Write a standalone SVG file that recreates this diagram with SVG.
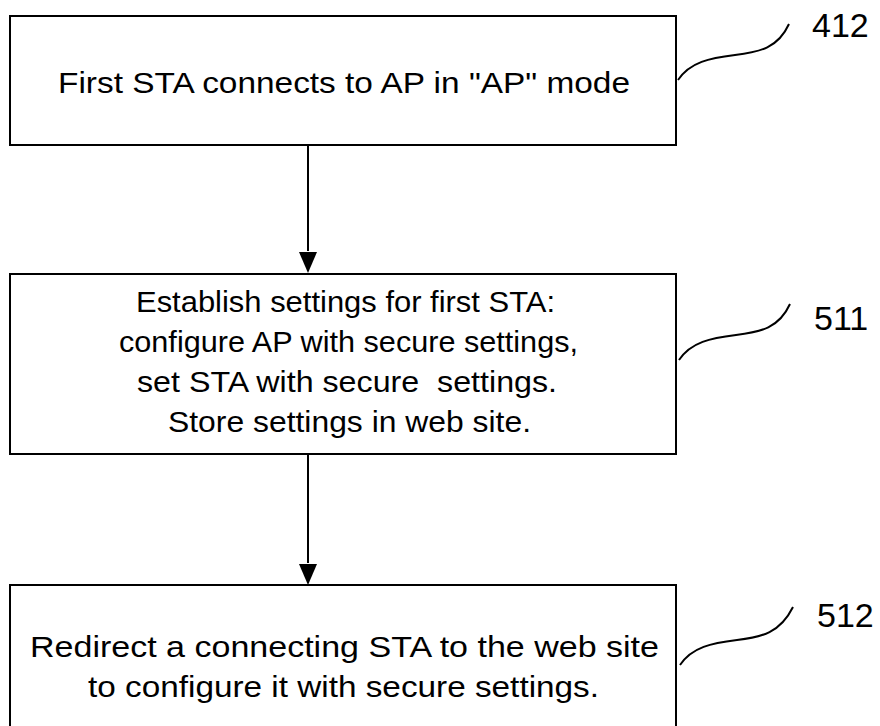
<svg xmlns="http://www.w3.org/2000/svg" width="880" height="726" viewBox="0 0 880 726">
<defs>
<style>
.box{fill:#fff;stroke:#000;stroke-width:2}
.t{font-family:"Liberation Sans",Arial,sans-serif;font-size:30px;fill:#000;white-space:pre}
.n{font-family:"Liberation Sans",Arial,sans-serif;font-size:34px;fill:#000}
.c{fill:none;stroke:#000;stroke-width:2}
.sq{fill:none;stroke:#000;stroke-width:2}
</style>
<marker id="ah" markerWidth="18" markerHeight="22" refX="9" refY="22" orient="auto" markerUnits="userSpaceOnUse" viewBox="0 0 18 22">
<path d="M0,0 L18,0 L9,22 Z" fill="#000"/>
</marker>
</defs>
<rect width="880" height="726" fill="#fff"/>
<g id="connectors">
<line class="c" x1="308" y1="145" x2="308" y2="251"/>
<path d="M299,252 L317,252 L308,273 Z" fill="#000"/>
<line class="c" x1="308" y1="455" x2="308" y2="563"/>
<path d="M299,564 L317,564 L308,585 Z" fill="#000"/>
</g>
<g id="n412">
<rect class="box" x="10" y="16" width="666" height="129"/>
<text class="t" x="58" y="93" textLength="572" lengthAdjust="spacingAndGlyphs">First STA connects to AP in "AP" mode</text>
<path class="sq" d="M678,80 C690,62 710,58 735,55 C760,52 778,48 789,24"/>
<text class="n" x="812" y="37">412</text>
</g>
<g id="n511">
<rect class="box" x="10" y="274" width="666" height="180"/>
<text class="t" x="136" y="312" textLength="419" lengthAdjust="spacingAndGlyphs">Establish settings for first STA:</text>
<text class="t" x="119" y="352" textLength="459" lengthAdjust="spacingAndGlyphs">configure AP with secure settings,</text>
<text class="t" x="137" y="392" textLength="420" lengthAdjust="spacingAndGlyphs">set STA with secure  settings.</text>
<text class="t" x="168" y="432" textLength="363" lengthAdjust="spacingAndGlyphs">Store settings in web site.</text>
<path class="sq" d="M679,360 C691,342 711,338 736,335 C761,332 779,328 790,304"/>
<text class="n" x="814" y="330">511</text>
</g>
<g id="n512">
<rect class="box" x="10" y="585" width="666" height="150"/>
<text class="t" x="30" y="657" textLength="629" lengthAdjust="spacingAndGlyphs">Redirect a connecting STA to the web site</text>
<text class="t" x="88" y="697" textLength="511" lengthAdjust="spacingAndGlyphs">to configure it with secure settings.</text>
<path class="sq" d="M680,665 C692,647 712,643 737,640 C762,637 780,633 793,607"/>
<text class="n" x="817" y="627">512</text>
</g>
</svg>
